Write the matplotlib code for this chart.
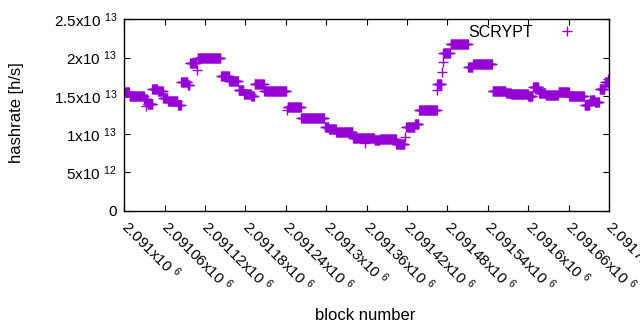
### hashrate per block, SCRYPT
###

import matplotlib
matplotlib.use("Agg")
import matplotlib.pyplot as plt

plt.rcParams['font.family'] = ['Liberation Sans', 'DejaVu Sans']
plt.rcParams['mathtext.fontset'] = 'custom'
plt.rcParams['mathtext.rm'] = 'Liberation Sans'
plt.rcParams['mathtext.default'] = 'regular'

BASE = 2091000

# plateaus: first block, last block (offset from BASE), hashrate (x1e13)
seg_start = [0, 8, 30, 35, 42, 50, 58, 65, 80, 85, 95, 98, 109, 144, 156, 170, 178, 189,
             194, 208, 243, 263, 298, 304, 315, 340, 358, 372, 380, 404, 419, 432, 438,
             465, 474, 485, 511, 518, 547, 567, 575, 600, 607, 616, 626, 645, 661, 684,
             692, 699, 706, 714]
seg_end = [7, 29, 34, 42, 49, 57, 64, 79, 84, 94, 97, 107, 143, 155, 169, 177, 188, 193,
           207, 241, 262, 297, 303, 314, 339, 356, 371, 379, 403, 416, 431, 437, 464,
           471, 484, 510, 517, 546, 566, 574, 599, 606, 615, 625, 644, 660, 683, 691,
           698, 705, 713, 720]
seg_val = [1.546, 1.50, 1.46, 1.39, 1.585, 1.567, 1.47, 1.43, 1.38, 1.684, 1.64, 1.924,
           1.99, 1.754, 1.69, 1.58, 1.53, 1.50, 1.65, 1.56, 1.35, 1.206, 1.097, 1.063,
           1.03, 0.945, 0.95, 0.923, 0.94, 0.871, 1.089, 1.128, 1.315, 1.654, 2.055,
           2.172, 1.872, 1.911, 1.559, 1.54, 1.52, 1.493, 1.61, 1.54, 1.51, 1.55, 1.497,
           1.38, 1.45, 1.42, 1.585, 1.684]

# single stray points between plateaus
odd_block = [33, 108, 242, 357, 417, 465, 472, 473, 603, 719]
odd_val = [1.37, 1.837, 1.31, 0.88, 0.958, 1.576, 1.815, 1.945, 1.49, 1.72]

xtick_vals = list(range(0, 721, 60))
xtick_labels = ["2.091x10 $^{6}$", "2.09106x10 $^{6}$", "2.09112x10 $^{6}$", "2.09118x10 $^{6}$",
                "2.09124x10 $^{6}$", "2.0913x10 $^{6}$", "2.09136x10 $^{6}$", "2.09142x10 $^{6}$",
                "2.09148x10 $^{6}$", "2.09154x10 $^{6}$", "2.0916x10 $^{6}$", "2.09166x10 $^{6}$",
                "2.09172x10 $^{6}$"]
ytick_vals = [0, 0.5e13, 1e13, 1.5e13, 2e13, 2.5e13]
ytick_labels = ["0", "5x10 $^{12}$", "1x10 $^{13}$", "1.5x10 $^{13}$", "2x10 $^{13}$",
                "2.5x10 $^{13}$"]

blocks = []
rates = []
for s, e, v in zip(seg_start, seg_end, seg_val):
    for b in range(s, e + 1):
        blocks.append(BASE + b)
        rates.append(v * 1e13)
for b, v in zip(odd_block, odd_val):
    blocks.append(BASE + b)
    rates.append(v * 1e13)

fig = plt.figure(figsize=(6.4, 3.3), dpi=100)
ax = fig.add_axes([0.194, 0.3615, 0.7576, 0.58])

ax.plot(blocks, rates, linestyle='none', marker='+', markersize=7,
        markeredgewidth=1.0, color='#9400D3', label='SCRYPT')

ax.set_xlim(BASE, BASE + 720)
ax.set_ylim(0, 2.5e13)
ax.set_xticks([BASE + t for t in xtick_vals])
ax.set_xticklabels(xtick_labels, rotation=-45, ha='left', va='center',
                   rotation_mode='anchor', fontsize=11)
ax.set_yticks(ytick_vals)
ax.set_yticklabels(ytick_labels, fontsize=11)
ax.tick_params(direction='in', length=4, width=0.8, top=True, right=True)
ax.tick_params(axis='x', pad=9)
ax.tick_params(axis='y', pad=5)
for sp in ax.spines.values():
    sp.set_linewidth(1.0)

fig.text(365 / 640, 1 - 315 / 330, "block number", fontsize=12, ha='center', va='center')
fig.text(17 / 640, 1 - 113 / 330, "hashrate [h/s]", fontsize=12, ha='center', va='center',
         rotation=90)

ax.legend(loc='upper right', frameon=False, markerfirst=False, fontsize=11.5,
          bbox_to_anchor=(0.968, 1.045), handletextpad=1.4, handlelength=1.5)

plt.savefig("out.png", dpi=100)
